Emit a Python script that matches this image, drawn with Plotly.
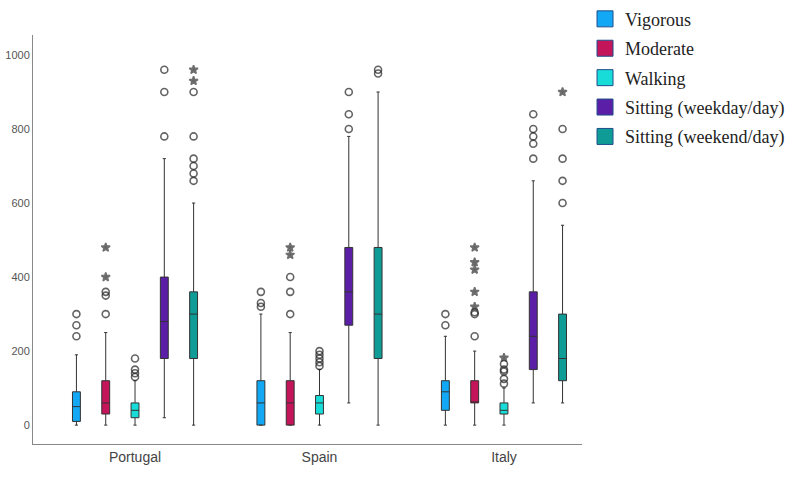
import plotly.graph_objects as go

countries = ["Portugal", "Spain", "Italy"]
series = ["Vigorous", "Moderate", "Walking", "Sitting (weekday/day)", "Sitting (weekend/day)"]
colors = ["#12A8F5", "#C4145A", "#18DCD8", "#5A1FA6", "#109C96"]

# box statistics per series (Portugal, Spain, Italy)
q1 = [[10, 0, 40], [30, 0, 60], [20, 30, 30], [180, 270, 150], [180, 180, 120]]
med = [[50, 60, 90], [60, 60, 60], [40, 60, 40], [280, 360, 240], [300, 300, 180]]
q3 = [[90, 120, 120], [120, 120, 120], [60, 80, 60], [400, 480, 360], [360, 480, 300]]
lo = [[0, 0, 0], [0, 0, 0], [0, 0, 0], [20, 60, 60], [0, 0, 60]]
hi = [[190, 300, 240], [250, 250, 200], [120, 150, 100], [720, 780, 660], [600, 900, 540]]

# outliers (circles) and extremes (stars) per series
circ_x = [
    ["Portugal"] * 3 + ["Spain"] * 3 + ["Italy"] * 2,
    ["Portugal"] * 3 + ["Spain"] * 3 + ["Italy"] * 3,
    ["Portugal"] * 4 + ["Spain"] * 5 + ["Italy"] * 5,
    ["Portugal"] * 3 + ["Spain"] * 3 + ["Italy"] * 5,
    ["Portugal"] * 6 + ["Spain"] * 2 + ["Italy"] * 4,
]
circ_y = [
    [300, 270, 240, 360, 330, 320, 300, 270],
    [300, 350, 360, 300, 360, 400, 240, 300, 305],
    [180, 150, 140, 130, 200, 190, 180, 170, 160, 165, 150, 145, 125, 112],
    [780, 900, 960, 800, 840, 900, 720, 760, 780, 800, 840],
    [660, 680, 700, 720, 780, 900, 950, 960, 600, 660, 720, 800],
]
star_x = [
    [],
    ["Portugal"] * 2 + ["Spain"] * 2 + ["Italy"] * 5,
    ["Italy"],
    [],
    ["Portugal"] * 2 + ["Italy"],
]
star_y = [
    [],
    [400, 480, 460, 480, 320, 360, 420, 440, 480],
    [182],
    [],
    [930, 960, 900],
]

fig = go.Figure()
for i, s in enumerate(series):
    fig.add_trace(go.Box(
        x=countries, q1=q1[i], median=med[i], q3=q3[i],
        lowerfence=lo[i], upperfence=hi[i],
        name=s, offsetgroup=s, fillcolor=colors[i],
        line=dict(color="#333333", width=1), whiskerwidth=0.4,
        boxpoints=False, showlegend=False, hoverinfo="skip",
    ))
    xs = circ_x[i] + star_x[i]
    ys = circ_y[i] + star_y[i]
    syms = ["circle-open"] * len(circ_y[i]) + ["star"] * len(star_y[i])
    sizes = [7] * len(circ_y[i]) + [6.5] * len(star_y[i])
    fig.add_trace(go.Scatter(
        x=xs, y=ys, mode="markers", offsetgroup=s, showlegend=False,
        marker=dict(symbol=syms, size=sizes, color="#222222",
                    line=dict(color="#333333", width=1.6)),
        hoverinfo="skip",
    ))

for i, s in enumerate(series):
    fig.add_trace(go.Scatter(
        x=[None], y=[None], mode="markers", name=s, legendgroup=s,
        marker=dict(symbol="square", size=18, color=colors[i],
                    line=dict(color="#1f4e8c", width=1)),
    ))

fig.update_layout(
    width=794, height=477,
    margin=dict(l=33, r=212, t=35, b=33, autoexpand=False),
    paper_bgcolor="white", plot_bgcolor="white",
    hovermode=False,
    boxmode="group", boxgap=0.206, boxgroupgap=0.73,
    scattermode="group", scattergap=0.206,
    legend=dict(x=1.0055, xanchor="left", y=1.084, yanchor="top",
                font=dict(family="Liberation Serif", size=18, color="#222"),
                tracegroupgap=3, itemsizing="trace", bgcolor="rgba(0,0,0,0)"),
    xaxis=dict(type="category", range=[-0.553, 2.423], showline=True,
               linecolor="#888", linewidth=1, showgrid=False, ticks="",
               tickfont=dict(family="Liberation Sans", size=14, color="#444"),
               zeroline=False),
    yaxis=dict(range=[-51, 1054], tickvals=[0, 200, 400, 600, 800, 1000],
               showline=True, linecolor="#888", linewidth=1, showgrid=False,
               zeroline=False, ticks="",
               tickfont=dict(family="Liberation Sans", size=11, color="#555")),
)
fig.write_html("out.html", config={"displayModeBar": False},
               post_script="document.body.style.margin='0';")
